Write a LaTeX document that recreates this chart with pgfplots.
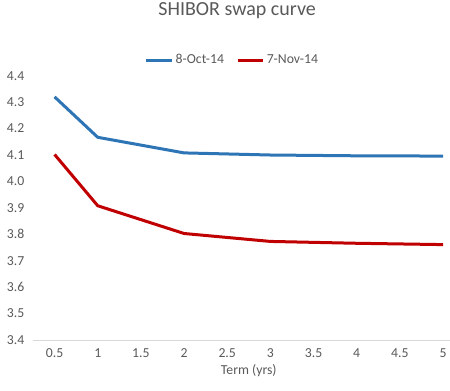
\documentclass[border=0pt]{standalone}
\usepackage{fontspec}
\setmainfont{Carlito}
\usepackage{pgfplots}
\pgfplotsset{compat=1.18}
\definecolor{txt}{HTML}{595959}
\definecolor{sblue}{HTML}{2E75B6}
\definecolor{sred}{HTML}{C00000}
\definecolor{axgray}{HTML}{D9D9D9}
\begin{document}
\begin{tikzpicture}
\useasboundingbox (0,0) rectangle (337.5pt,292.5pt);
\clip (0,0) rectangle (337.5pt,292.5pt);
\begin{axis}[
  at={(24.75pt,37.5pt)}, anchor=south west,
  scale only axis, width=323.7pt, height=198.2pt,
  xmin=0.25, xmax=5.25, ymin=3.4, ymax=4.4,
  xtick={0.5,1,...,5}, ytick={3.4,3.5,...,4.41},
  axis lines*=left,
  x axis line style={draw=axgray, line width=0.75pt},
  y axis line style={draw=none},
  major tick length=0pt,
  tick label style={font=\fontsize{10.3}{12}\selectfont, text=txt},
  /pgf/number format/assume math mode=true,
  yticklabel style={/pgf/number format/fixed, /pgf/number format/fixed zerofill, /pgf/number format/precision=1, xshift=-3pt},
  xticklabel style={yshift=-3pt},
  xlabel={Term (yrs)},
  xlabel style={font=\fontsize{10.3}{12}\selectfont, text=txt, yshift=2pt},
  title={SHIBOR swap curve},
  title style={font=\fontsize{15}{18}\selectfont, text=txt, at={(0.473,1.218)}, anchor=center},
  legend columns=2,
  legend style={draw=none, fill=none, at={(0.463,1.059)}, anchor=center,
    font=\fontsize{10.3}{12}\selectfont, text=txt,
    /tikz/every even column/.append style={column sep=7pt}},
  legend image post style={xscale=1.1},
  clip=false,
]
\addplot[sblue, line width=2.25pt, line join=round] coordinates {
  (0.5,4.320) (1,4.167) (2,4.108) (3,4.100) (4,4.097) (5,4.096)};
\addlegendentry{8-Oct-14}
\addplot[sred, line width=2.25pt, line join=round] coordinates {
  (0.5,4.102) (1,3.908) (2,3.803) (3,3.773) (4,3.766) (5,3.761)};
\addlegendentry{7-Nov-14}
\end{axis}
\end{tikzpicture}
\end{document}
